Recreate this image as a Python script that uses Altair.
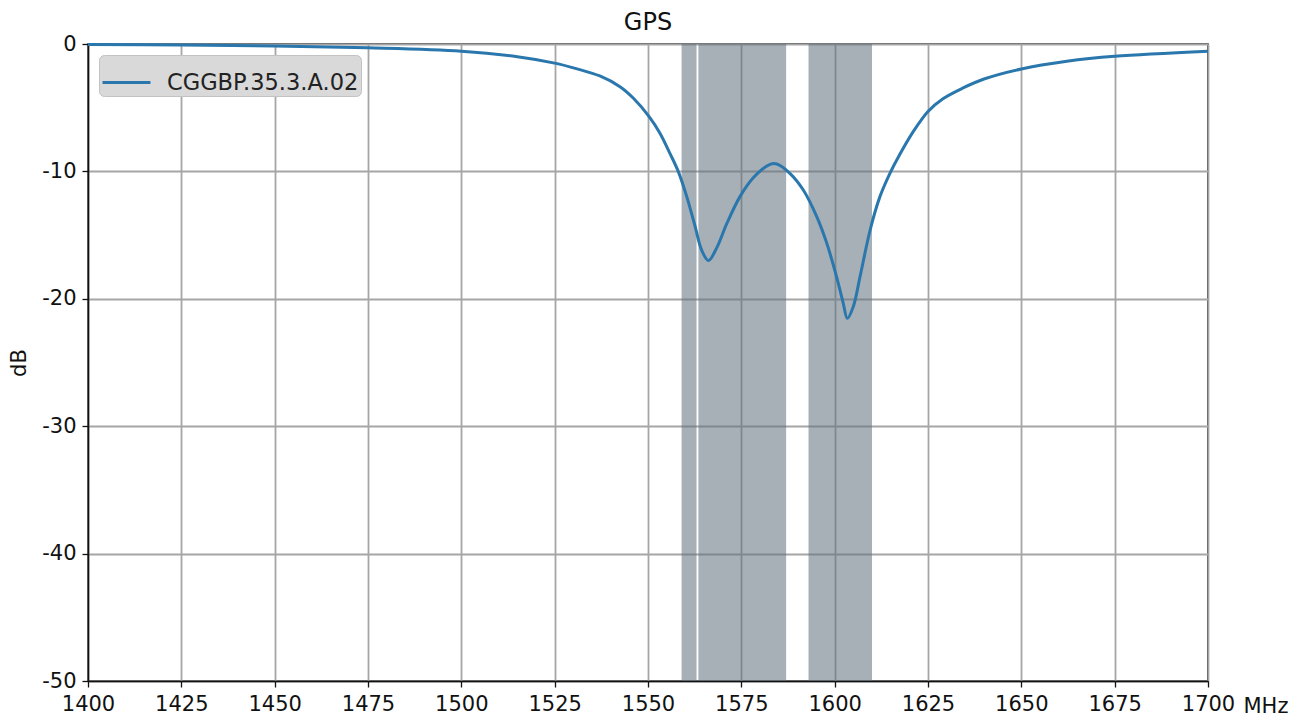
import altair as alt
import pandas as pd

# Filter response (dB) against frequency (MHz)
freq_mhz = [1400, 1425, 1450, 1475, 1500, 1515, 1525, 1531, 1537.1, 1542.5, 1546.1,
            1550.3, 1553.2, 1555.9, 1558.1, 1560.4, 1562.6, 1564.4, 1566.2, 1568.4,
            1571.1, 1574.6, 1578.2, 1582.7, 1584.5, 1588.0, 1591.6, 1595.2, 1597.9,
            1600.5, 1602.3, 1603.4, 1605.0, 1606.8, 1609.5, 1612.1, 1614.8, 1617.1,
            1621, 1625, 1629, 1634.4, 1640, 1650, 1662.2, 1675, 1700]
gain_db = [-0.03, -0.08, -0.15, -0.3, -0.57, -1.0, -1.5, -1.95, -2.51, -3.35, -4.26,
           -5.7, -7.0, -8.6, -10.0, -12.0, -14.3, -16.2, -17.0, -16.0,
           -14.1, -12.0, -10.5, -9.45, -9.42, -10.15, -11.46, -13.55, -15.65,
           -18.26, -20.35, -21.53, -20.6, -18.26, -14.6, -12.0, -10.15, -8.85,
           -6.9, -5.3, -4.3, -3.45, -2.75, -1.96, -1.36, -0.97, -0.57]
series_name = "CGGBP.35.3.A.02"

# Shaded GNSS bands (MHz)
band_start = [1559, 1563.5, 1593]
band_end = [1563, 1587, 1610]

x_ticks = [1400, 1425, 1450, 1475, 1500, 1525, 1550, 1575, 1600, 1625, 1650, 1675, 1700]
y_ticks = [0, -10, -20, -30, -40, -50]

curve = pd.DataFrame({"freq": freq_mhz, "gain": gain_db, "series": series_name})
bands = pd.DataFrame({"start": band_start, "end": band_end})

W, H = 1120, 637
FONT = "DejaVu Sans"

x_scale = alt.Scale(domain=[1400, 1700], nice=False, zero=False)
y_scale = alt.Scale(domain=[-50, 0], nice=False, zero=False)

x_axis = alt.Axis(
    values=x_ticks, labelExpr="'' + datum.value", title="MHz", grid=True,
    labelFlush=False, labelOverlap=False,
    titleX=W + 35, titleY=31, titleAlign="left", titleBaseline="alphabetic",
    titleAngle=0, titleFontWeight="normal", titleFontSize=21, titlePadding=0,
)
y_axis = alt.Axis(
    values=y_ticks, labelExpr="'' + datum.value", title="dB", grid=True,
    labelFlush=False, labelOverlap=False,
    titleFontWeight="normal", titleFontSize=21, titlePadding=12,
)

band_layer = alt.Chart(bands).mark_rect(color="#5f6f7a", opacity=0.55).encode(
    x=alt.X("start:Q", scale=x_scale, axis=x_axis),
    x2="end:Q",
    y=alt.datum(0, scale=y_scale, axis=y_axis),
    y2=alt.datum(-50),
)

line_layer = alt.Chart(curve).mark_line(strokeWidth=3, interpolate="catmull-rom").encode(
    x=alt.X("freq:Q", scale=x_scale, axis=x_axis),
    y=alt.Y("gain:Q", scale=y_scale, axis=y_axis),
    color=alt.Color(
        "series:N",
        scale=alt.Scale(range=["#2a77ad"]),
        legend=alt.Legend(
            title=None, orient="none", legendX=11, legendY=11,
            symbolType="stroke", symbolSize=2300, symbolStrokeWidth=3,
            labelFontSize=22.5, labelFont=FONT, labelColor="#222222", labelOffset=15,
            labelLimit=500,
            fillColor="#d9d9d9", strokeColor="#c3c3c3", cornerRadius=5, padding=2,
        ),
    ),
)

chart = (
    alt.layer(band_layer, line_layer)
    .properties(
        width=W, height=H,
        title=alt.TitleParams("GPS", fontSize=24, font=FONT, fontWeight="normal",
                              color="#111111", offset=-2, anchor="middle"),
        autosize=alt.AutoSizeParams(type="none"),
        padding={"left": 88, "top": 44, "right": 97, "bottom": 39},
    )
    .configure(font=FONT, background="white")
    .configure_view(stroke="#111111", strokeWidth=1.5)
    .configure_axis(
        labelFont=FONT, titleFont=FONT, labelFontSize=21, labelColor="#111111",
        titleColor="#111111", tickColor="#111111", tickSize=6, tickWidth=1.3,
        domainColor="#111111", domainWidth=1.5, labelPadding=6,
        gridColor="#a6a6a6", gridWidth=1.8, gridOpacity=1,
    )
)

chart.save("out.html", embed_options={"renderer": "svg", "actions": False})
